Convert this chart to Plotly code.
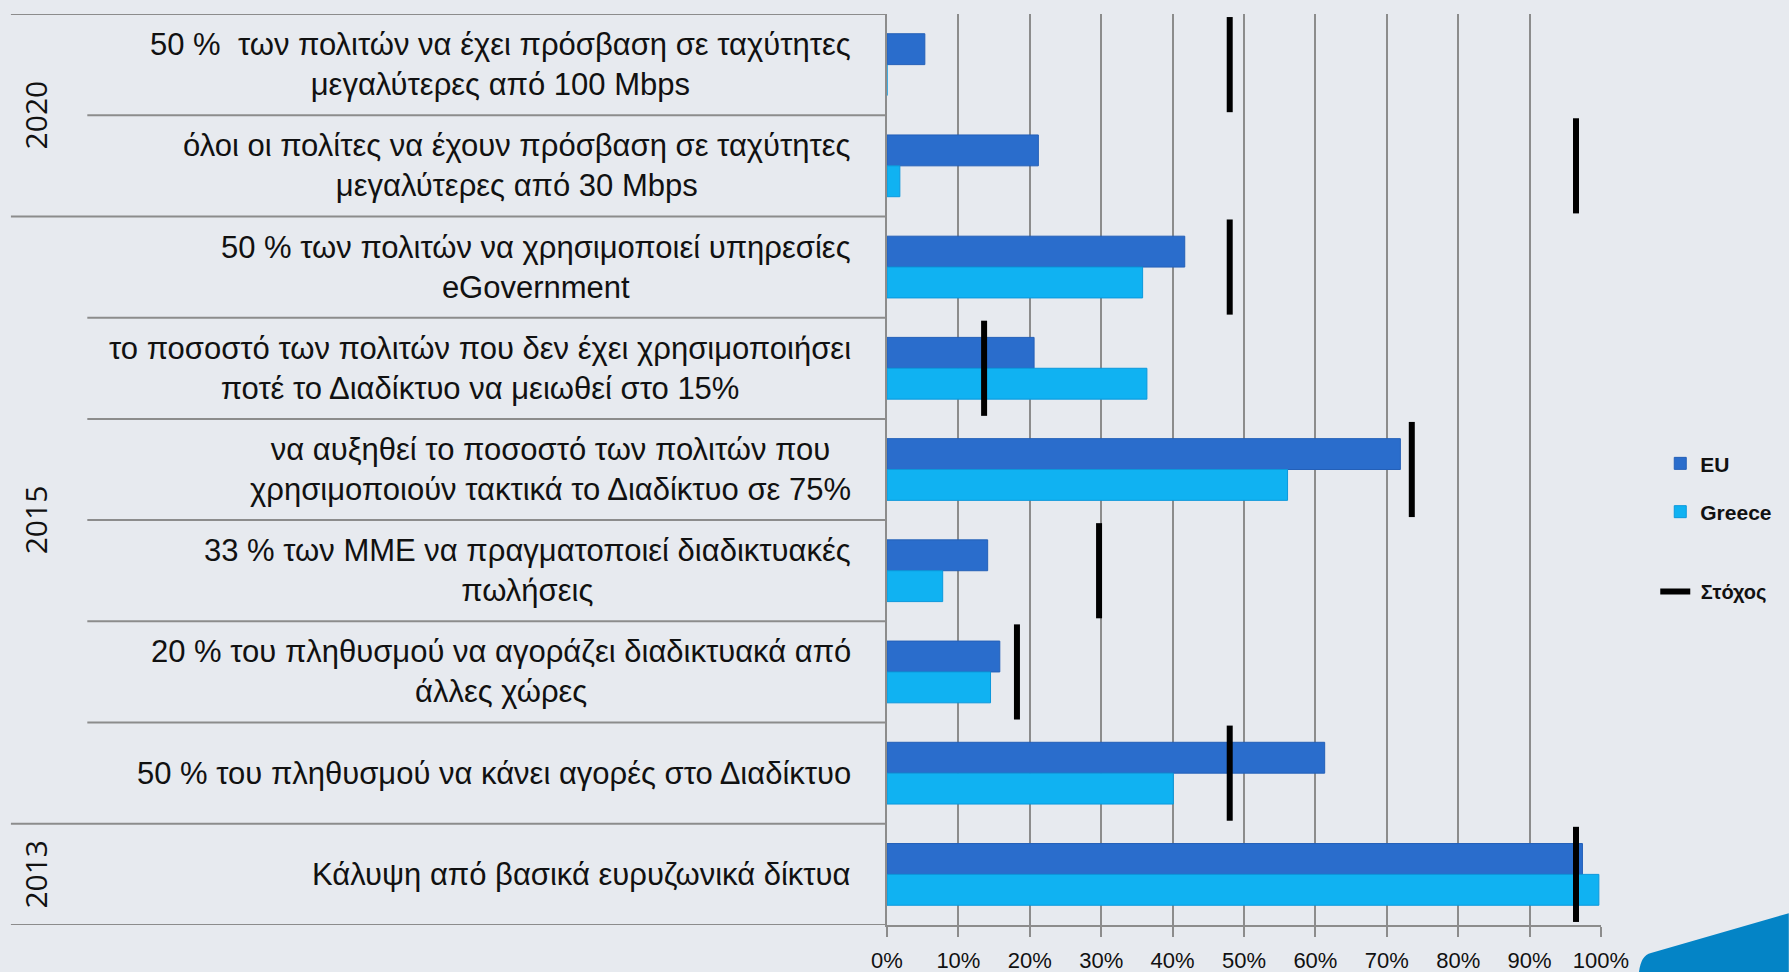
import plotly.graph_objects as go

# Στόχοι Ψηφιακής Ατζέντας - EU vs Greece
labels = [
    "50 %  των πολιτών να έχει πρόσβαση σε ταχύτητες<br>μεγαλύτερες από 100 Mbps",
    "όλοι οι πολίτες να έχουν πρόσβαση σε ταχύτητες<br>μεγαλύτερες από 30 Mbps",
    "50 % των πολιτών να χρησιμοποιεί υπηρεσίες<br>eGovernment",
    "το ποσοστό των πολιτών που δεν έχει χρησιμοποιήσει<br>ποτέ το Διαδίκτυο να μειωθεί στο 15%",
    "να αυξηθεί το ποσοστό των πολιτών που<br>χρησιμοποιούν τακτικά το Διαδίκτυο σε 75%",
    "33 % των ΜΜΕ να πραγματοποιεί διαδικτυακές<br>πωλήσεις",
    "20 % του πληθυσμού να αγοράζει διαδικτυακά από<br>άλλες χώρες",
    "50 % του πληθυσμού να κάνει αγορές στο Διαδίκτυο",
    "Κάλυψη από βασικά ευρυζωνικά δίκτυα",
]
eu = [5.3, 21.2, 41.7, 20.6, 71.9, 14.1, 15.8, 61.3, 97.4]
greece = [0, 1.8, 35.8, 36.4, 56.1, 7.8, 14.5, 40.1, 99.7]
target = [48, 96.5, 48, 13.6, 73.5, 29.7, 18.2, 48, 96.5]
years = ["2020", "2015", "2013"]
year_groups = [(0, 1), (2, 7), (8, 8)]

pos = list(range(len(labels)))

fig = go.Figure()
fig.add_trace(go.Bar(y=pos, x=eu, orientation="h", name="EU", legendgroup="eu",
                     marker=dict(color="#2a6dcc", line=dict(color="#2460b8", width=1))))
fig.add_trace(go.Bar(y=pos, x=greece, orientation="h", name="Greece", legendgroup="gr",
                     marker=dict(color="#10b2f2", line=dict(color="#0b98dc", width=1))))

# target markers as short vertical lines
tx, ty = [], []
for i, t in enumerate(target):
    tx += [t, t, None]
    ty += [i - 0.47, i + 0.47, None]
fig.add_trace(go.Scatter(x=tx, y=ty, mode="lines", name="\u00a0Στόχος", legend="legend2",
                         line=dict(color="black", width=6)))

# left side: category labels
for i, lab in enumerate(labels):
    fig.add_annotation(x=-0.047, y=i, xref="paper", yref="y", text=lab,
                       showarrow=False, xanchor="right", yanchor="middle", align="center",
                       font=dict(family="Liberation Sans", size=31, color="#111"))

# separators between categories
group_edges = set()
for a, b in year_groups:
    group_edges.add(a - 0.5)
    group_edges.add(b + 0.5)
for k in range(len(labels) + 1):
    edge = k - 0.5
    x0 = -1.227 if edge in group_edges else -1.12
    fig.add_shape(type="line", xref="paper", yref="y", x0=x0, x1=0, y0=edge, y1=edge,
                  line=dict(color="#8c8c8c", width=2))

# year labels
for yr, (a, b) in zip(years, year_groups):
    fig.add_annotation(x=-1.193, y=(a + b) / 2, xref="paper", yref="y", text=yr,
                       showarrow=False, textangle=-90, xanchor="center", yanchor="middle",
                       font=dict(family="Open Sans", size=30, color="#111"))

# blue corner decoration
fig.add_shape(type="path", xref="paper", yref="paper", layer="below",
              path="M 1.0532 -0.0516 Q 1.056 -0.033 1.0700 -0.0307 L 1.263 0.013 L 1.263 -0.0516 Z",
              fillcolor="#0484c6", line=dict(width=0))

legend_font = dict(family="Liberation Sans", size=21, color="#111", weight="bold")
fig.update_layout(
    width=1789, height=972,
    margin=dict(l=887, r=188, t=14, b=47),
    paper_bgcolor="#e7eaef", plot_bgcolor="rgba(0,0,0,0)",
    barmode="group", bargap=0.39, bargroupgap=0,
    showlegend=True,
    legend=dict(x=1.083, y=0.48, xanchor="left", yanchor="middle", tracegroupgap=18,
                font=legend_font, bgcolor="rgba(0,0,0,0)", itemwidth=30),
    legend2=dict(x=1.076, y=0.366, xanchor="left", yanchor="middle",
                 font=dict(legend_font, size=20), bgcolor="rgba(0,0,0,0)", itemwidth=30),
    xaxis=dict(range=[0, 100], dtick=10, ticksuffix="%", showgrid=True, gridcolor="#8c8c8c",
               gridwidth=2, zeroline=False, showline=True, linecolor="#8c8c8c", linewidth=2,
               ticks="outside", ticklen=10, tickcolor="#8c8c8c", tickwidth=2,
               ticklabelstandoff=5, automargin=False,
               tickfont=dict(family="Liberation Sans", size=22, color="#111")),
    yaxis=dict(range=[8.5, -0.5], showticklabels=False, showgrid=False, zeroline=False,
               showline=True, linecolor="#8c8c8c", linewidth=2, automargin=False),
)

fig.write_html("out.html", config={"displayModeBar": False},
               post_script="document.body.style.margin='0';")
